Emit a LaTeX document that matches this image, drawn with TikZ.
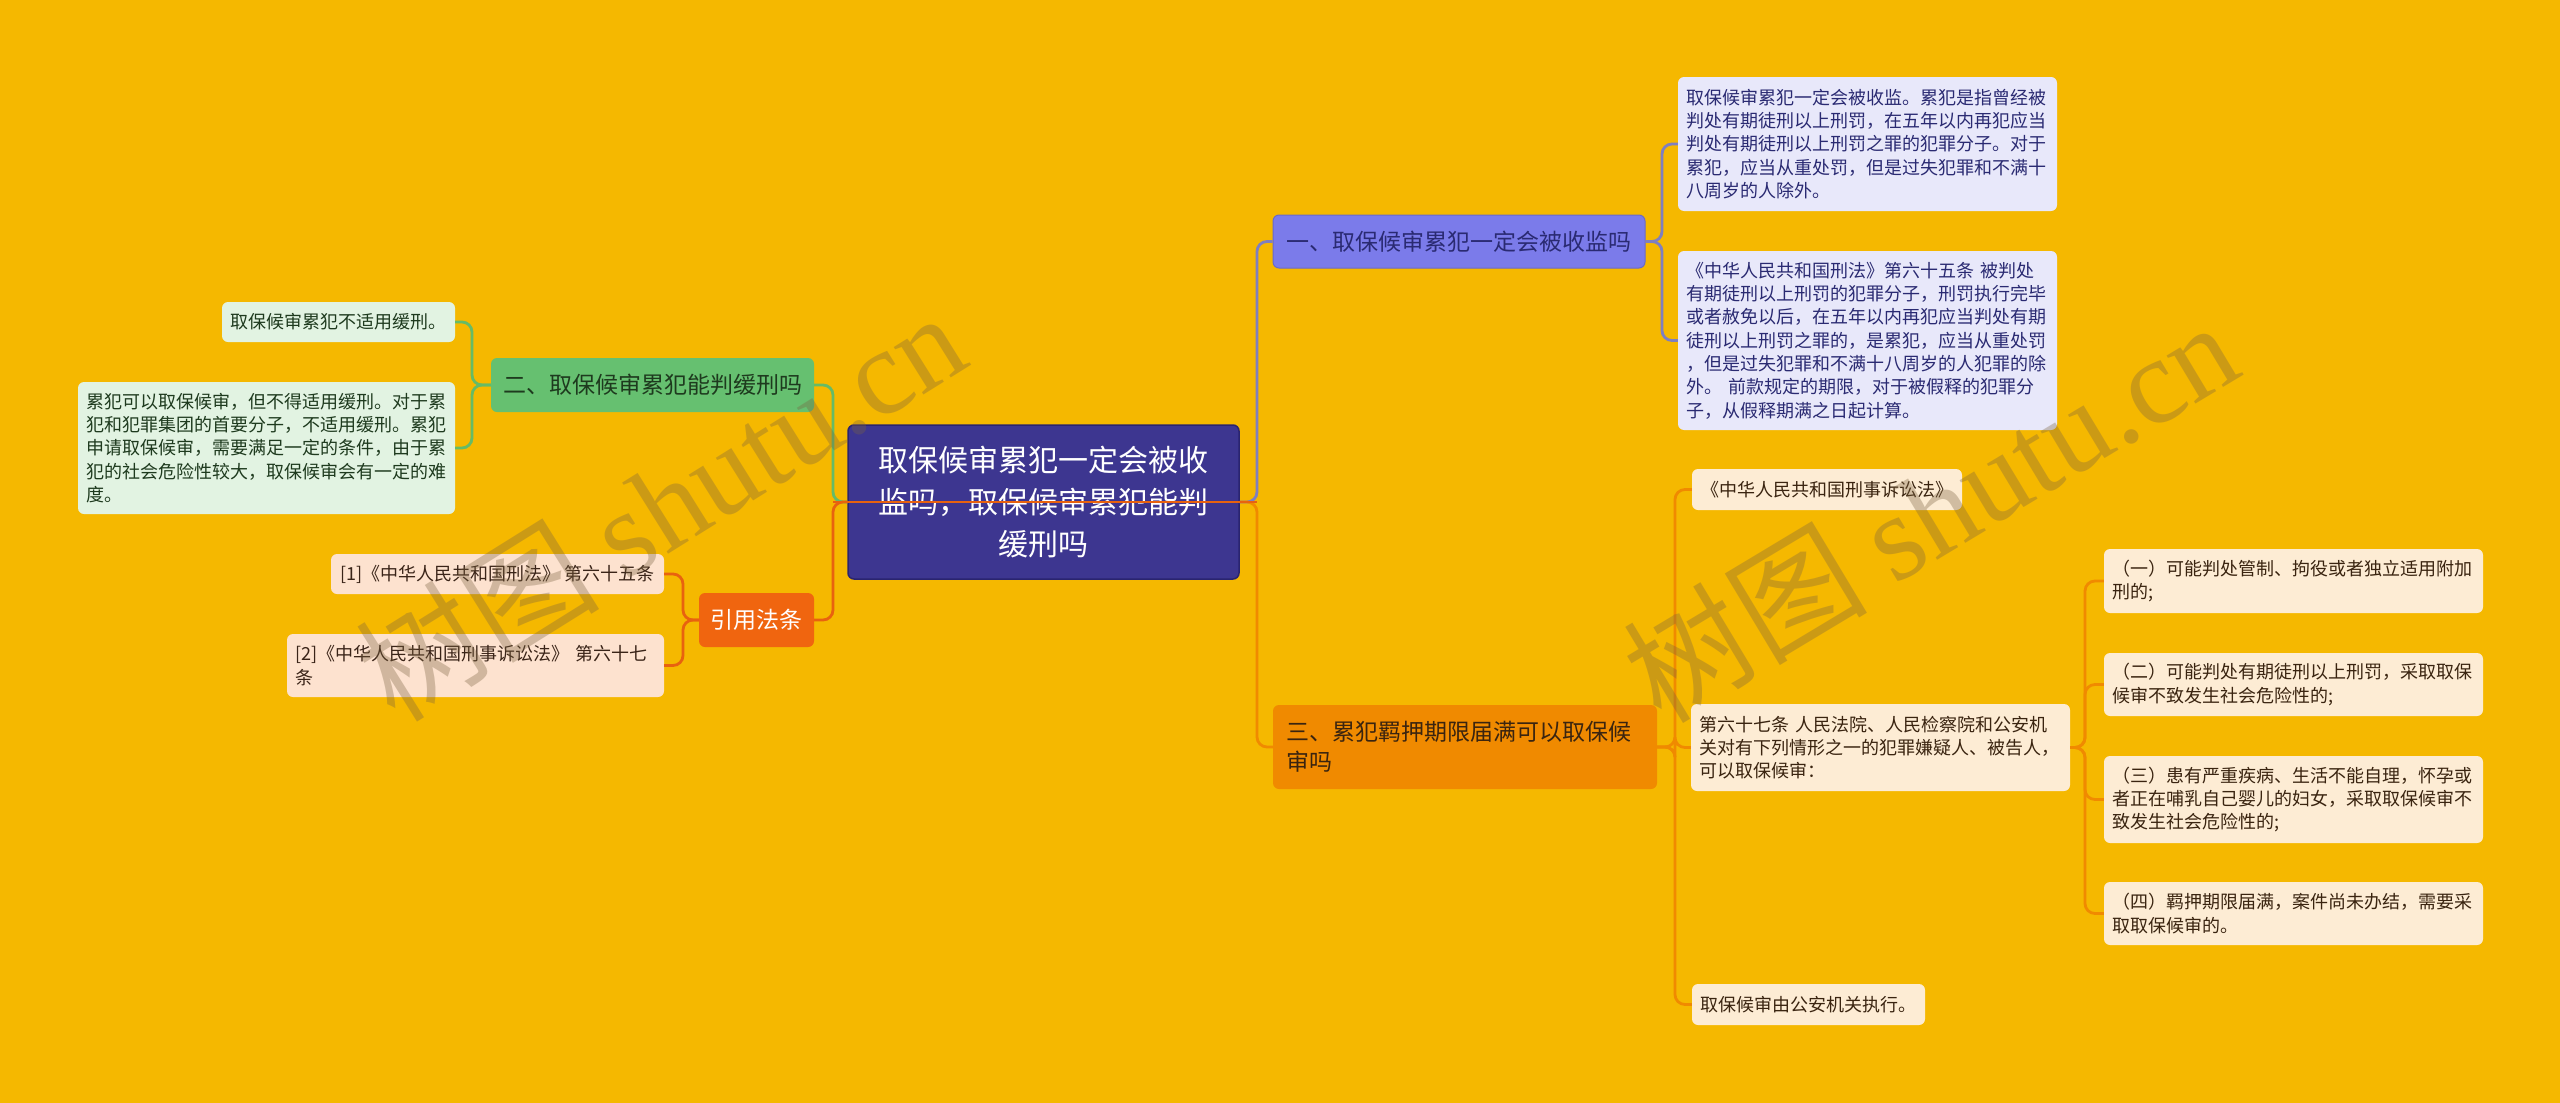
\documentclass[tikz,border=0pt]{standalone}
\usepackage{fontspec}
\setmainfont{Noto Sans CJK SC}
\newfontfamily\wmlatin{Liberation Serif}
\usetikzlibrary{calc}
\definecolor{bg}{HTML}{F5B800}
\definecolor{rootfill}{HTML}{3D3690}
\definecolor{rootdraw}{HTML}{2A2470}
\definecolor{pfill}{HTML}{7B7BEA}
\definecolor{pdraw}{HTML}{6A6AC8}
\definecolor{pleaf}{HTML}{E8E8FA}
\definecolor{ptext}{HTML}{2A2A72}
\definecolor{pline}{HTML}{7F7FC0}
\definecolor{gfill}{HTML}{66C070}
\definecolor{gleaf}{HTML}{E2F3E2}
\definecolor{gline}{HTML}{66BB66}
\definecolor{gtext}{HTML}{1E3A1E}
\definecolor{rfill}{HTML}{F0650F}
\definecolor{rleaf}{HTML}{FDE2CF}
\definecolor{rline}{HTML}{E8620F}
\definecolor{rtext}{HTML}{3A2418}
\definecolor{ofill}{HTML}{F08A00}
\definecolor{oleaf}{HTML}{FDECD4}
\definecolor{oline}{HTML}{F08A00}
\definecolor{otext}{HTML}{3A2410}
\definecolor{wmcol}{HTML}{7A6240}
\tikzset{
  box/.style={rounded corners=6pt, inner sep=0pt, anchor=center},
  rootbox/.style={box, fill=rootfill, draw=rootdraw, line width=1.5pt, text=white,
    font=\fontsize{30}{42}\selectfont, align=center},
  branch/.style={box, font=\fontsize{23}{30}\selectfont},
  leaf/.style={box, font=\fontsize{18}{23.3}\selectfont, align=left},
  pbranch/.style={branch, fill=pfill, draw=pdraw, line width=1pt, text=ptext, align=center},
  pleafbox/.style={leaf, fill=pleaf, text=ptext},
  gbranch/.style={branch, fill=gfill, text=gtext, align=center},
  gleafbox/.style={leaf, fill=gleaf, text=gtext},
  rbranch/.style={branch, fill=rfill, text=white, align=center},
  rleafbox/.style={leaf, fill=rleaf, text=rtext},
  obranch/.style={branch, fill=ofill, text=otext, align=left},
  oleafbox/.style={leaf, fill=oleaf, text=otext},
  conn/.style={line width=2.8pt, rounded corners=10pt},
  connP/.style={conn, draw=pline},
  connG/.style={conn, draw=gline},
  connR/.style={conn, draw=rline},
  connO/.style={conn, draw=oline},
  wm/.style={text=wmcol, text opacity=0.34, font=\fontsize{122}{122}\selectfont, inner sep=0pt}
}
\begin{document}
\begin{tikzpicture}[x=1pt,y=-1pt]
\fill[bg] (0,0) rectangle (2560,1103);
\useasboundingbox (0,0) rectangle (2560,1103);

\coordinate (bxR) at (1257,0);
\coordinate (bxL) at (833,0);
\coordinate (bx1) at (1662,0);
\coordinate (bx3) at (1675,0);
\coordinate (bx67) at (2085,0);
\coordinate (bx2) at (472,0);
\coordinate (bx4) at (683,0);

% root
\node[rootbox, minimum width=391pt, minimum height=154pt] (c) at (1043.5,502)
  {取保候审累犯一定会被收\\监吗，取保候审累犯能判\\缓刑吗};

% branch 1
\node[pbranch, minimum width=372pt, minimum height=53pt] (b1) at (1459,241.5)
  {一、取保候审累犯一定会被收监吗};
\node[pleafbox, minimum width=379pt, minimum height=134pt, text width=362pt] (l1a) at (1867.5,144)
  {取保候审累犯一定会被收监。累犯是指曾经被\\判处有期徒刑以上刑罚，在五年以内再犯应当\\判处有期徒刑以上刑罚之罪的犯罪分子。对于\\累犯，应当从重处罚，但是过失犯罪和不满十\\八周岁的人除外。};
\node[pleafbox, minimum width=379pt, minimum height=179pt, text width=362pt] (l1b) at (1867.5,340.5)
  {《中华人民共和国刑法》第六十五条~被判处\\有期徒刑以上刑罚的犯罪分子，刑罚执行完毕\\或者赦免以后，在五年以内再犯应当判处有期\\徒刑以上刑罚之罪的，是累犯，应当从重处罚\\，但是过失犯罪和不满十八周岁的人犯罪的除\\外。~前款规定的期限，对于被假释的犯罪分\\子，从假释期满之日起计算。};

% branch 3
\node[obranch, minimum width=384pt, minimum height=84pt, text width=358pt] (b3) at (1465,747)
  {三、累犯羁押期限届满可以取保候\\审吗};
\node[oleafbox, minimum width=270pt, minimum height=41pt, align=center] (law) at (1827,489.5)
  {《中华人民共和国刑事诉讼法》};
\node[oleafbox, minimum width=379pt, minimum height=87pt, text width=362pt] (a67) at (1880.5,747.5)
  {第六十七条~人民法院、人民检察院和公安机\\关对有下列情形之一的犯罪嫌疑人、被告人，\\可以取保候审：};
\node[oleafbox, minimum width=233pt, minimum height=41pt, align=center] (exec) at (1808.5,1004.5)
  {取保候审由公安机关执行。};
\node[oleafbox, minimum width=379pt, minimum height=64pt, text width=362pt] (s1) at (2293.5,581)
  {（一）可能判处管制、拘役或者独立适用附加\\刑的;};
\node[oleafbox, minimum width=379pt, minimum height=63pt, text width=362pt] (s2) at (2293.5,684.5)
  {（二）可能判处有期徒刑以上刑罚，采取取保\\候审不致发生社会危险性的;};
\node[oleafbox, minimum width=379pt, minimum height=87pt, text width=362pt] (s3) at (2293.5,799.5)
  {（三）患有严重疾病、生活不能自理，怀孕或\\者正在哺乳自己婴儿的妇女，采取取保候审不\\致发生社会危险性的;};
\node[oleafbox, minimum width=379pt, minimum height=63pt, text width=362pt] (s4) at (2293.5,913.5)
  {（四）羁押期限届满，案件尚未办结，需要采\\取取保候审的。};

% branch 2
\node[gbranch, minimum width=323pt, minimum height=54pt] (b2) at (652.5,385)
  {二、取保候审累犯能判缓刑吗};
\node[gleafbox, minimum width=233pt, minimum height=40pt, align=center] (l2a) at (338.5,322)
  {取保候审累犯不适用缓刑。};
\node[gleafbox, minimum width=377pt, minimum height=132pt, text width=361pt] (l2b) at (266.5,448)
  {累犯可以取保候审，但不得适用缓刑。对于累\\犯和犯罪集团的首要分子，不适用缓刑。累犯\\申请取保候审，需要满足一定的条件，由于累\\犯的社会危险性较大，取保候审会有一定的难\\度。};

% branch 4
\node[rbranch, minimum width=115pt, minimum height=54pt] (b4) at (756.5,620)
  {引用法条};
\node[rleafbox, minimum width=333pt, minimum height=40pt, align=center] (r1) at (497.5,574)
  {[1]《中华人民共和国刑法》~第六十五条};
\node[rleafbox, minimum width=377pt, minimum height=63pt, text width=361pt] (r2) at (475.5,665.5)
  {[2]《中华人民共和国刑事诉讼法》~第六十七\\条};

% connectors
\draw[connP] (c.east) -- (c.east -| bxR) |- (b1.west);
\draw[connO] (c.east) -- (c.east -| bxR) |- (b3.west);
\draw[connG] (c.west) -- (c.west -| bxL) |- (b2.east);
\draw[connR] (c.west) -- (c.west -| bxL) |- (b4.east);
\draw[connR] (c.west -| bxL) -- (c.east -| bxR);

\draw[connP] (b1.east) -- (b1.east -| bx1) |- (l1a.west);
\draw[connP] (b1.east) -- (b1.east -| bx1) |- (l1b.west);

\draw[connO] (b3.east) -- (b3.east -| bx3) |- (law.west);
\draw[connO] (b3.east) -- (b3.east -| bx3) |- (a67.west);
\draw[connO] (b3.east) -- (b3.east -| bx3) |- (exec.west);

\draw[connO] (a67.east) -- (a67.east -| bx67) |- (s1.west);
\draw[connO] (a67.east) -- (a67.east -| bx67) |- (s2.west);
\draw[connO] (a67.east) -- (a67.east -| bx67) |- (s3.west);
\draw[connO] (a67.east) -- (a67.east -| bx67) |- (s4.west);

\draw[connG] (b2.west) -- (b2.west -| bx2) |- (l2a.east);
\draw[connG] (b2.west) -- (b2.west -| bx2) |- (l2b.east);

\draw[connR] (b4.west) -- (b4.west -| bx4) |- (r1.east);
\draw[connR] (b4.west) -- (b4.west -| bx4) |- (r2.east);

% watermarks
\node[wm, rotate=32] (wm1) at (660,505) {树图 {\wmlatin shutu.cn}};
\node[wm, rotate=31] (wm2) at (1930,510) {树图 {\wmlatin shutu.cn}};
\end{tikzpicture}
\end{document}
